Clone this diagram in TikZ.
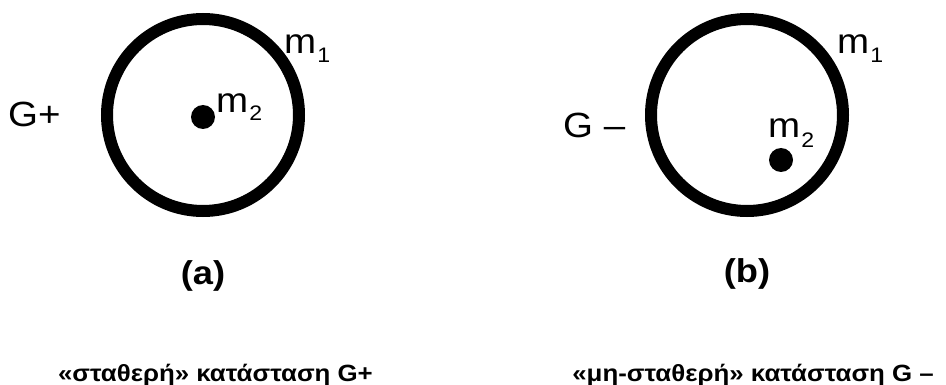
\documentclass[tikz,border=0pt]{standalone}
\usepackage{fontspec}
\setmainfont{Liberation Sans}[FakeStretch=1.1]
\usepackage{tikz}
\usetikzlibrary{positioning}

\newcommand{\massname}[2][9pt]{m\kern1pt\raisebox{-#1}{\fontsize{21}{21}\selectfont #2}}

\begin{document}
\begin{tikzpicture}[x=1pt,y=-1pt, node distance=45pt,
ring/.style={circle,draw,line width=12pt,inner sep=0pt,minimum size=192pt},
mass/.style={circle,fill,inner sep=0pt,minimum size=24pt},
lbl/.style={inner sep=0pt,font=\fontsize{35}{40}\selectfont},
tag/.style={inner sep=0pt,font=\bfseries\fontsize{33}{38}\selectfont},
caption/.style={inner sep=0pt,font=\bfseries\fontsize{23.5}{28}\selectfont}]
\useasboundingbox (0,0) rectangle (946,385);
% stable state
\node[ring] (ringA) at (203,115) {};
\node[mass] (dotA) at (203,117) {};
\node[lbl,anchor=base west] (mA1) at (284,54) {\massname{1}};
\node[lbl,anchor=base west] (mA2) at (216,113) {\massname[8pt]{2}};
\node[lbl,anchor=base west] (gA) at (8,127) {G+};
\node[tag,below=43pt of ringA] (tagA) {(a)};
\node[caption,anchor=base east] (capA) at (373,381) {«σταθερή» κατάσταση G+};
% unstable state
\node[ring] (ringB) at (747,115) {};
\node[mass] (dotB) at (781,160) {};
\node[lbl,anchor=base west] (mB1) at (837,54) {\massname{1}};
\node[lbl,anchor=base west] (mB2) at (768,138) {\massname[10pt]{2}};
\node[lbl,anchor=base west] (gB) at (563,138) {G –};
\node[tag,below=41pt of ringB] (tagB) {(b)};
\node[caption,anchor=base east] (capB) at (934,381) {«μη-σταθερή» κατάσταση G –};
\end{tikzpicture}
\end{document}
